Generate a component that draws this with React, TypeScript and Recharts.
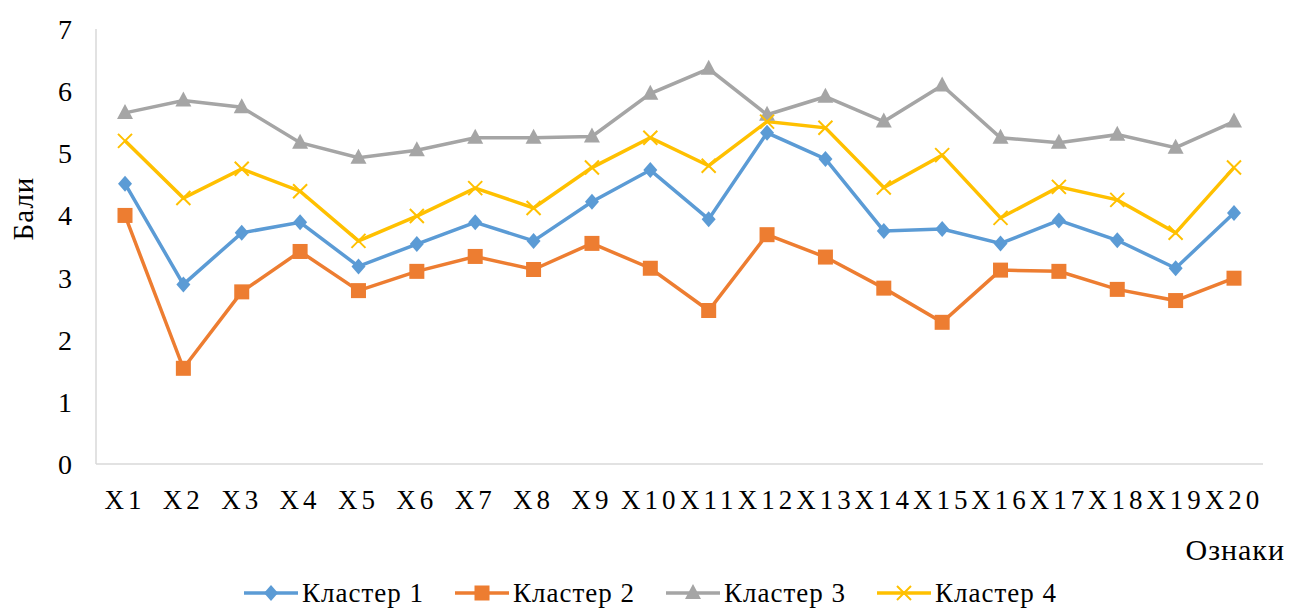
import React from 'react';
import { LineChart, Line, XAxis, YAxis, Legend } from 'recharts';

const categories = ['X1', 'X2', 'X3', 'X4', 'X5', 'X6', 'X7', 'X8', 'X9', 'X10', 'X11', 'X12', 'X13', 'X14', 'X15', 'X16', 'X17', 'X18', 'X19', 'X20'];
const cluster1 = [4.51, 2.89, 3.72, 3.89, 3.18, 3.54, 3.89, 3.59, 4.22, 4.73, 3.94, 5.33, 4.91, 3.75, 3.78, 3.55, 3.92, 3.6, 3.15, 4.04];
const cluster2 = [4.0, 1.54, 2.77, 3.42, 2.79, 3.1, 3.34, 3.13, 3.55, 3.15, 2.47, 3.69, 3.33, 2.83, 2.28, 3.12, 3.1, 2.81, 2.63, 2.99];
const cluster3 = [5.65, 5.85, 5.74, 5.17, 4.93, 5.05, 5.25, 5.25, 5.27, 5.96, 6.36, 5.62, 5.91, 5.51, 6.09, 5.25, 5.17, 5.3, 5.09, 5.51];
const cluster4 = [5.2, 4.28, 4.75, 4.39, 3.59, 3.99, 4.44, 4.12, 4.77, 5.25, 4.8, 5.51, 5.41, 4.45, 4.97, 3.96, 4.46, 4.25, 3.72, 4.77];
const yTicks = [0, 1, 2, 3, 4, 5, 6, 7];

const data = categories.map((name, i) => ({
  name,
  c1: cluster1[i],
  c2: cluster2[i],
  c3: cluster3[i],
  c4: cluster4[i],
}));

const FONT = '"Liberation Serif", "Times New Roman", serif';

const series = [
  { key: 'c1', name: 'Кластер 1', color: '#5B9BD5', marker: 'diamond' },
  { key: 'c2', name: 'Кластер 2', color: '#ED7D31', marker: 'square' },
  { key: 'c3', name: 'Кластер 3', color: '#A5A5A5', marker: 'triangle' },
  { key: 'c4', name: 'Кластер 4', color: '#FFC000', marker: 'cross' },
];

function Marker({ cx, cy, type, color }: { cx: number; cy: number; type: string; color: string }) {
  if (cx == null || cy == null) return null;
  if (type === 'diamond') {
    return <path d={`M${cx},${cy - 8} L${cx + 7},${cy} L${cx},${cy + 8} L${cx - 7},${cy} Z`} fill={color} />;
  }
  if (type === 'square') {
    return <rect x={cx - 7.5} y={cy - 7.5} width={15} height={15} fill={color} />;
  }
  if (type === 'triangle') {
    return <path d={`M${cx},${cy - 9} L${cx + 8},${cy + 6} L${cx - 8},${cy + 6} Z`} fill={color} />;
  }
  return (
    <path d={`M${cx - 7},${cy - 7} L${cx + 7},${cy + 7} M${cx + 7},${cy - 7} L${cx - 7},${cy + 7}`} stroke={color} strokeWidth={2} fill="none" />
  );
}

const makeDot = (type: string, color: string) => (props: any) => (
  <Marker key={`${type}-${props.index}`} cx={props.cx} cy={props.cy} type={type} color={color} />
);

function LegendContent() {
  return (
    <div style={{ display: 'flex', justifyContent: 'center', gap: 30, fontFamily: FONT, fontSize: 27, letterSpacing: 1, color: '#000', height: 30, alignItems: 'center' }}>
      {series.map((s) => (
        <div key={s.key} style={{ display: 'flex', alignItems: 'center' }}>
          <svg width={56} height={24} style={{ marginRight: 3 }}>
            <line x1={1} y1={12} x2={55} y2={12} stroke={s.color} strokeWidth={3.5} />
            <Marker cx={28} cy={12} type={s.marker} color={s.color} />
          </svg>
          <span>{s.name}</span>
        </div>
      ))}
    </div>
  );
}

const XLabel = (props: any) => {
  const { viewBox } = props;
  return (
    <text x={viewBox.x + viewBox.width + 22} y={viewBox.y + 96} textAnchor="end" fontFamily={FONT} fontSize={30} letterSpacing={1} fill="#000">
      Ознаки
    </text>
  );
};

const YLabel = (props: any) => {
  const { viewBox } = props;
  const cy = viewBox.y + viewBox.height / 2 - 38;
  return (
    <text x={33} y={cy} transform={`rotate(-90, 33, ${cy})`} textAnchor="middle" fontFamily={FONT} fontSize={29} letterSpacing={1} fill="#000">
      Бали
    </text>
  );
};

export default function App() {
  return (
    <div style={{ position: 'absolute', left: 0, top: 0, background: '#fff' }}>
      <LineChart width={1300} height={610} data={data} margin={{ top: 29, right: 37, left: 0, bottom: 0 }}>
        <XAxis
          dataKey="name"
          axisLine={{ stroke: '#D9D9D9', strokeWidth: 1.5 }}
          tickLine={false}
          tickSize={6}
          tickMargin={20}
          height={116}
          interval={0}
          padding={{ left: 29, right: 29 }}
          tick={{ fontFamily: FONT, fontSize: 27, fill: '#000', letterSpacing: 4 }}
          label={<XLabel />}
        />
        <YAxis
          domain={[0, 7]}
          ticks={yTicks}
          width={96}
          axisLine={{ stroke: '#D9D9D9', strokeWidth: 1.5 }}
          tickLine={false}
          tickSize={6}
          tickMargin={18}
          tick={{ fontFamily: FONT, fontSize: 28, fill: '#000' }}
          label={<YLabel />}
        />
        <Legend
          content={<LegendContent />}
          verticalAlign="bottom"
          wrapperStyle={{ left: 0, width: 1300, height: 30, bottom: 2 }}
        />
        {series.map((s) => (
          <Line
            key={s.key}
            type="linear"
            dataKey={s.key}
            name={s.name}
            stroke={s.color}
            strokeWidth={3.5}
            dot={makeDot(s.marker, s.color)}
            activeDot={false}
            isAnimationActive={false}
          />
        ))}
      </LineChart>
    </div>
  );
}
